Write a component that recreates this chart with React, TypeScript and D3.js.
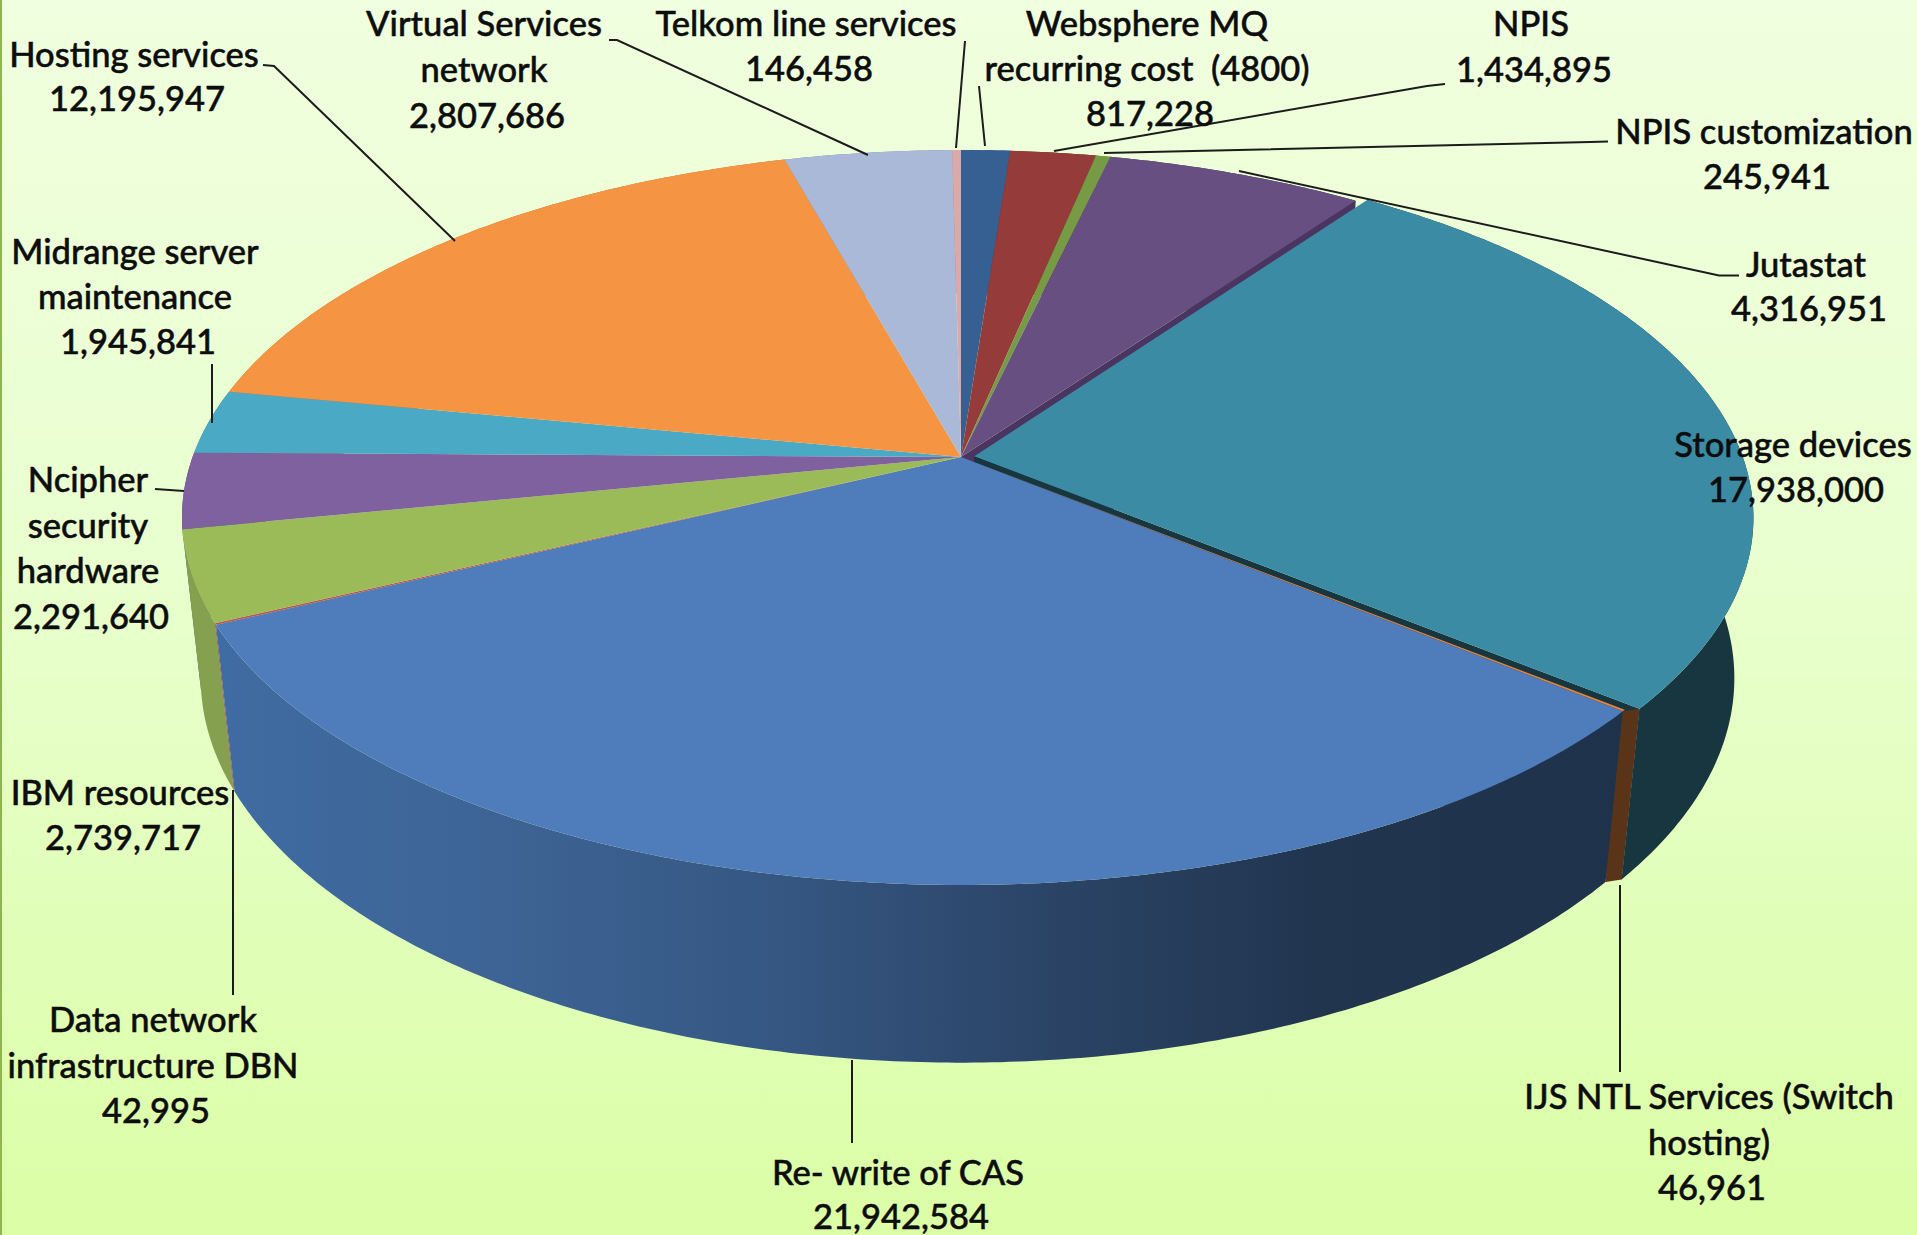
import React from "react";
import * as d3 from "d3";

const W = 1917, H = 1235;

const categories = ["Websphere MQ recurring cost (4800)", "NPIS", "NPIS customization", "Jutastat", "Storage devices", "IJS NTL Services (Switch hosting)", "Re- write of CAS", "Data network infrastructure DBN", "IBM resources", "Ncipher security hardware", "Midrange server maintenance", "Hosting services", "Virtual Services network", "Telkom line services"];
const values = [817228, 1434895, 245941, 4316951, 17938000, 46961, 21942584, 42995, 2739717, 2291640, 1945841, 12195947, 2807686, 146458];
const topColors = ["#376092", "#953b39", "#779b45", "#674f82", "#3c8ba5", "#e8833a", "#4f7dbb", "#c0504d", "#9bbb59", "#8061a0", "#4aa9c5", "#f59544", "#a9b9d7", "#dca9a9"];
const sideColors = ["#2a4a70", "#6e2b29", "#5a7533", "#4a3560", "#17363f", "#5a3418", "url(#rewriteSide)", "#9c4240", "#85a04e", "#5f4878", "#37808f", "#b86e30", "#7f8ba2", "#a47e7e"];
const explode = [0, 0, 0, 0, 0.0175, 0, 0, 0, 0, 0, 0, 0, 0, 0];

const labelLines = [
  ["Hosting services", "12,195,947"],
  ["Virtual Services", "network", "2,807,686"],
  ["Telkom line services", "146,458"],
  ["Websphere MQ", "recurring cost  (4800)", "817,228"],
  ["NPIS", "1,434,895"],
  ["NPIS customization", "245,941"],
  ["Jutastat", "4,316,951"],
  ["Storage devices", "17,938,000"],
  ["Midrange server", "maintenance", "1,945,841"],
  ["Ncipher", "security", "hardware", "2,291,640"],
  ["IBM resources", "2,739,717"],
  ["Data network", "infrastructure DBN", "42,995"],
  ["Re- write of CAS", "21,942,584"],
  ["IJS NTL Services (Switch", "hosting)", "46,961"],
];
// layout, in the reference's full-size pixels: [centre x, centre y of first line, line gap]
const labelAnchors = [
  [134, 55, 44], [484, 24, 46], [806, 24, 45], [1147, 24, 45], [1531, 24, 46], [1764, 132, 45],
  [1806, 265, 44], [1793, 445, 45], [135, 252, 45], [88, 480, 45.5], [120, 793, 45], [153, 1020, 45.5],
  [898, 1173, 44], [1709, 1097, 45.5],
];
const leaders = [
  [[263, 65], [274, 66], [455, 241]],
  [[609, 40], [617, 40], [868, 155]],
  [[965, 41], [956, 148]],
  [[979, 86], [985, 146]],
  [[1445, 84], [1427, 86], [1054, 151]],
  [[1608, 141.5], [1590, 142], [1104, 153]],
  [[1739, 275.5], [1719, 275.5], [1239, 171]],
  [[212, 364], [212, 423]],
  [[155, 489], [184, 491]],
  [[233, 995], [233, 790]],
  [[852, 1060], [852, 1143]],
  [[1620, 885], [1620, 1072]],
];

// perspective model of the pie: v = +1 is the front rim, z = 1 the bottom face
const CX = 961, CY = 457, A = 768.4, B = 357.5, K = 0.1646, D = 163, M = 0.024;
type Pt = [number, number];
const proj = (u: number, v: number, z: number): Pt => {
  const w = 1 - K * v + M * z;
  return [CX + (A * u) / w, CY + (B * v + D * z) / w];
};
const rim = (t: number, off: [number, number], z: number): Pt =>
  proj(Math.sin(t) + off[0], -Math.cos(t) + off[1], z);

const pieGen = d3.pie<number>().sort(null).startAngle(0).endAngle(2 * Math.PI);
const slices = pieGen(values);
const line = d3.line<Pt>();

const arcPts = (s: number, e: number, off: [number, number], z: number): Pt[] => {
  const n = Math.max(2, Math.ceil((e - s) / 0.01));
  return d3.range(n + 1).map((i) => rim(s + ((e - s) * i) / n, off, z));
};

export default function App() {
  const items = slices.map((s, i) => {
    const mid = (s.startAngle + s.endAngle) / 2;
    const off: [number, number] = [Math.sin(mid) * explode[i], -Math.cos(mid) * explode[i]];
    const top = arcPts(s.startAngle, s.endAngle, off, 0);
    const bottom = arcPts(s.startAngle, s.endAngle, off, 1).reverse();
    const apexT = proj(off[0], off[1], 0);
    const apexB = proj(off[0], off[1], 1);
    return {
      i, s, top, bottom, apexT, apexB,
      topPath: line([apexT, ...top])! + "Z",
      sidePath: line([...top, ...bottom])! + "Z",
      wallEnd: line([apexT, top[top.length - 1], bottom[0], apexB])! + "Z",
      depth: -Math.cos(mid),
    };
  });
  const wallJ = items[3];
  const wallS = items[4];
  const ijs = items[5];
  const sideOrder = d3.sort(items.filter((d) => d.i !== 4), (d) => d.depth);
  // the brown face of the thin slice fills the gap up to the exploded slice's end
  const ijsFace = line([ijs.top[ijs.top.length - 1], wallS.top[wallS.top.length - 1], wallS.bottom[0], ijs.bottom[0]])! + "Z";
  return (
    <svg width={W} height={H} viewBox={`0 0 ${W} ${H}`} style={{ position: "fixed", left: 0, top: 0, display: "block" }}>
      <defs>
        <linearGradient id="bg" x1="0" y1="0" x2="0" y2="1">
          <stop offset="0" stopColor="#f0ffdf" />
          <stop offset="0.45" stopColor="#e9ffcf" />
          <stop offset="1" stopColor="#dbfea6" />
        </linearGradient>
        <linearGradient id="rewriteSide" gradientUnits="userSpaceOnUse" x1="215" y1="0" x2="1625" y2="0">
          <stop offset="0" stopColor="#3f6ca3" />
          <stop offset="0.22" stopColor="#3d6393" />
          <stop offset="0.42" stopColor="#345580" />
          <stop offset="0.57" stopColor="#2c4669" />
          <stop offset="0.78" stopColor="#21354f" />
          <stop offset="1" stopColor="#1e324c" />
        </linearGradient>
      </defs>
      <rect width={W} height={H} fill="url(#bg)" />
      <rect width={2} height={H} fill="#8fb64e" />
      <path d={wallJ.wallEnd} fill={sideColors[3]} />
      <path d={wallS.sidePath} fill={sideColors[4]} />
      <path d={wallS.wallEnd} fill={sideColors[4]} />
      {sideOrder.map((d) => (
        <path key={d.i} d={d.sidePath} fill={sideColors[d.i]} />
      ))}
      <path d={ijsFace} fill={sideColors[5]} />
      {items.map((d) => (
        <path key={d.i} d={d.topPath} fill={topColors[d.i]} />
      ))}
      <g fill="none" stroke="#1c1c1c" strokeWidth={2}>
        {leaders.map((l, i) => (
          <path key={i} d={line(l as Pt[])!} />
        ))}
      </g>
      <g fontFamily="Lato, 'Open Sans', sans-serif" fontSize={34.5} fontWeight={500} fill="#0d0d0d" stroke="#0d0d0d" strokeWidth={0.5} textAnchor="middle">
        {labelLines.map((lines, i) => (
          <text key={i} xmlSpace="preserve">
            {lines.map((t, j) => (
              <tspan key={j} x={labelAnchors[i][0] + (j === lines.length - 1 ? 3 : 0)} y={labelAnchors[i][1] + j * labelAnchors[i][2]} dy="0.35em">{t}</tspan>
            ))}
          </text>
        ))}
      </g>
    </svg>
  );
}
